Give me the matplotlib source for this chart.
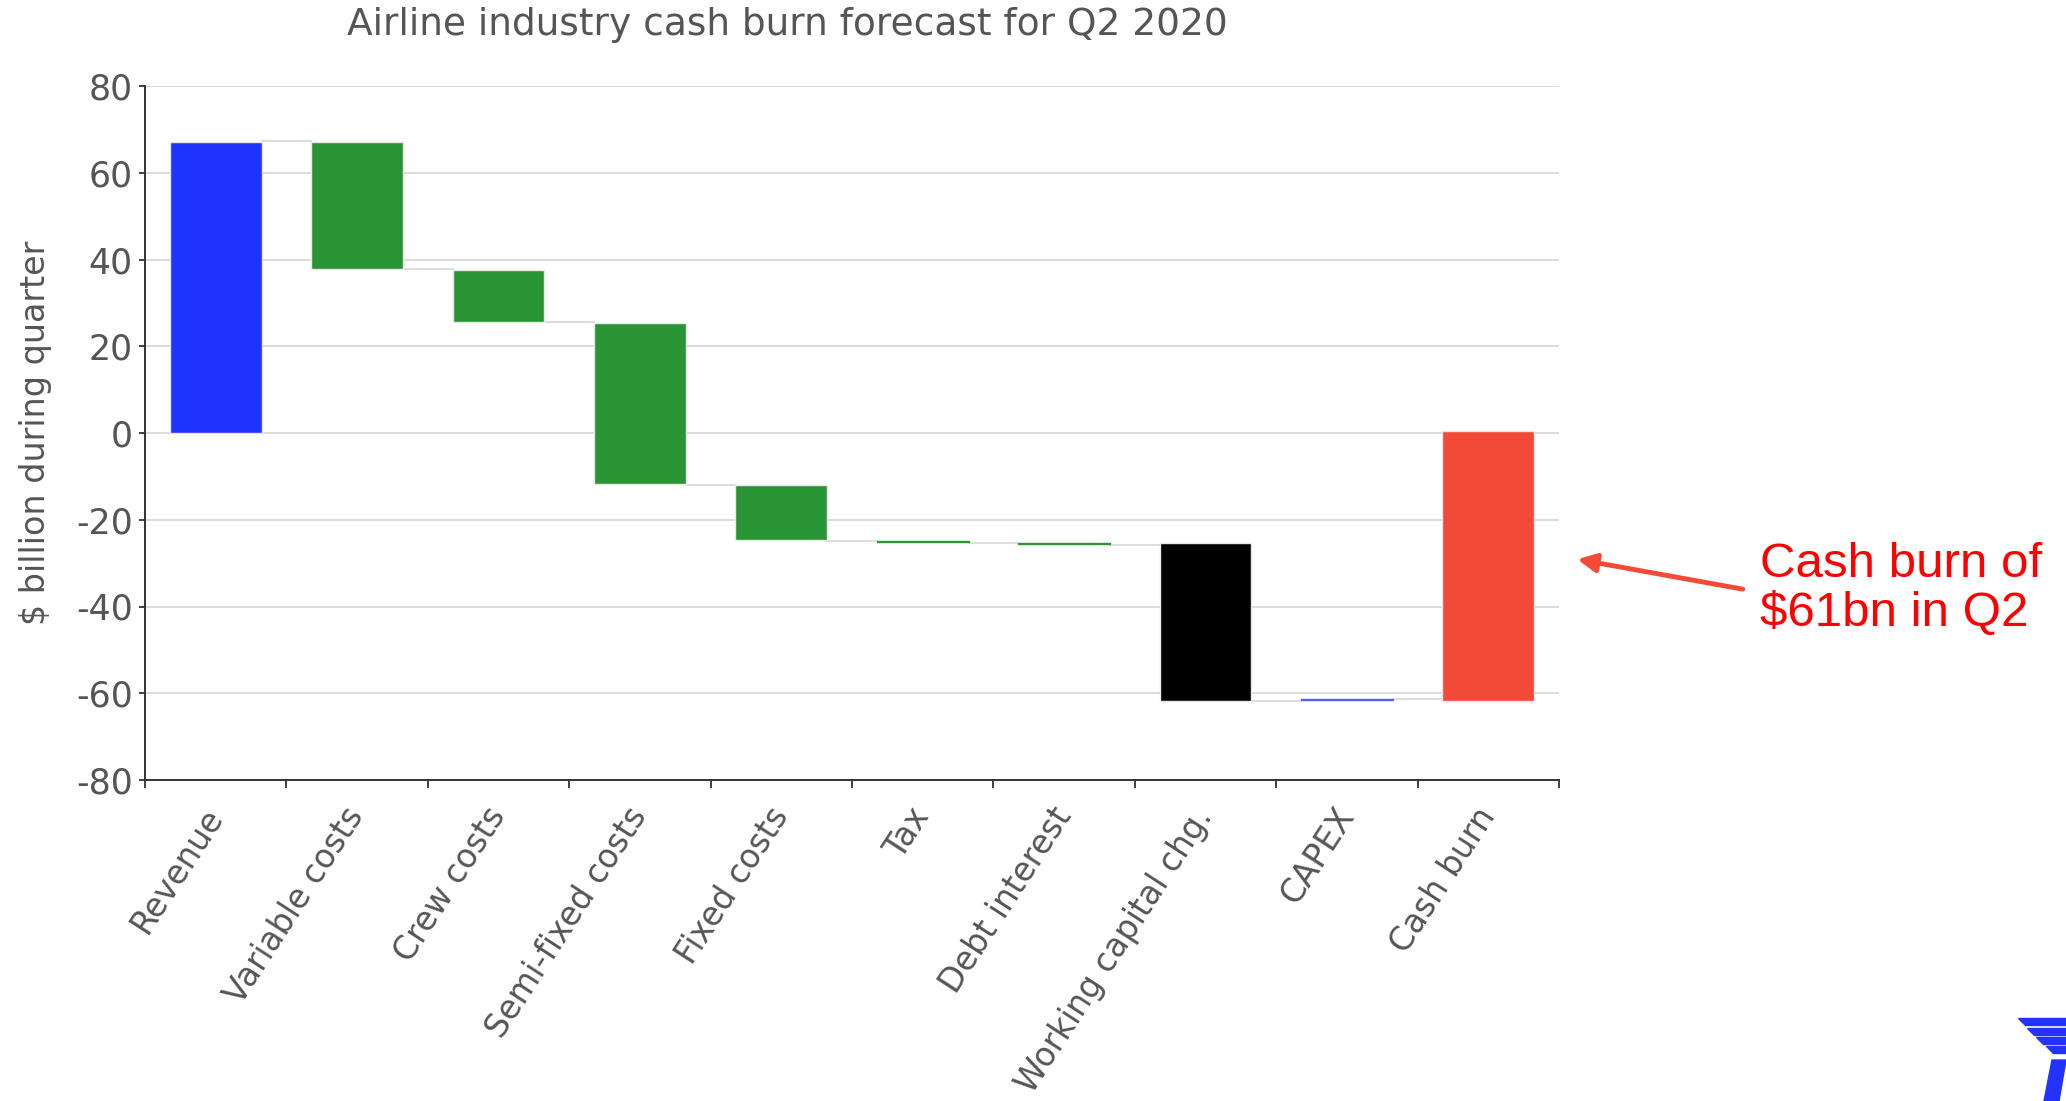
import numpy as np
import matplotlib
matplotlib.use('Agg')
import matplotlib.pyplot as plt
from matplotlib.patches import Polygon

plt.rcParams['axes.unicode_minus'] = False

# values ($bn)
categories = ['Revenue', 'Variable costs', 'Crew costs', 'Semi-fixed costs', 'Fixed costs',
              'Tax', 'Debt interest', 'Working capital chg.', 'CAPEX', 'Cash burn']
bar_top = [67.0, 67.0, 37.5, 25.4, -12.1, -24.9, -25.3, -25.4, -61.3, 0.4]
bar_bottom = [0.0, 37.7, 25.5, -11.7, -24.7, -25.2, -25.6, -61.9, -61.6, -61.9]
bar_colors = ['#1f33ff', '#2a9534', '#2a9534', '#2a9534', '#2a9534',
              '#2a9534', '#2a9534', '#000000', '#5560ff', '#f24a36']
# level where each bar hands over to the next one
link_level = [67.3, 37.7, 25.5, -11.9, -24.9, -25.3, -25.9, -61.9, -61.4]

W, H = 2066, 1101
fig = plt.figure(figsize=(W / 100, H / 100), dpi=100)
ax = fig.add_axes([145 / W, 1 - 780 / H, 1414 / W, 694 / H])

x = np.arange(len(categories))
width = 0.65
heights = np.array(bar_top) - np.array(bar_bottom)
# very small bars would vanish, so give them an outline in their own colour
edges = [c if h < 1 else '#e8e8e8' for c, h in zip(bar_colors, heights)]
ax.bar(x, heights, bottom=bar_bottom, width=width, color=bar_colors,
       edgecolor=edges, linewidth=1.0, zorder=3)

for i, lev in enumerate(link_level):
    ax.plot([x[i] + width / 2, x[i + 1] - width / 2], [lev, lev],
            color='#dedede', lw=1.5, zorder=2)

ax.set_xlim(-0.5, len(categories) - 0.5)
ax.set_ylim(-80, 80)
ax.set_yticks(np.arange(-80, 81, 20))
ax.yaxis.grid(True, color='#dcdcdc', lw=1.4, zorder=0)
ax.set_axisbelow(True)

ax.set_xticks(x)
ax.set_xticklabels(categories, rotation=57, ha='right', va='center',
                   rotation_mode='anchor')
ax.set_xticks(np.arange(-0.5, len(categories), 1), minor=True)
ax.tick_params(axis='x', which='major', length=0, pad=22, labelsize=23.5,
               labelcolor='#555555')
ax.tick_params(axis='x', which='minor', length=6, width=1.3, color='#333333')
ax.tick_params(axis='y', length=4, width=1.3, color='#333333', pad=5,
               labelsize=25, labelcolor='#555555')

for s in ['top', 'right']:
    ax.spines[s].set_visible(False)
for s in ['left', 'bottom']:
    ax.spines[s].set_color('#333333')
    ax.spines[s].set_linewidth(1.4)

fig.text(787 / W, 1 - 25 / H, 'Airline industry cash burn forecast for Q2 2020',
         ha='center', va='center', fontsize=27, color='#555555')
fig.text(36 / W, 1 - 433 / H, '$ billion during quarter', rotation=90,
         ha='center', va='center', fontsize=24, color='#555555')

# annotation
ax.annotate('', xy=(1.013, 0.318), xytext=(1.130, 0.275),
            xycoords='axes fraction', textcoords='axes fraction',
            annotation_clip=False,
            arrowprops=dict(arrowstyle='-|>', color='#f24a36', lw=3.5,
                            mutation_scale=28, shrinkA=0, shrinkB=0))
ax.text(1.142, 0.275, 'Cash burn of\n$61bn in Q2', transform=ax.transAxes,
        ha='left', va='center', fontsize=35.5, color='#ff0000',
        family='Liberation Sans', linespacing=1.12)

# corner logo fragment
logo = '#2233ff'
stripes = [(1017.7, 1025, 2018), (1027.7, 1034.5, 2027), (1036.7, 1043.5, 2036), (1045.7, 1052.7, 2046)]
for y0, y1, xl in stripes:
    pts = [(xl, y0), (W, y0), (W, y1), (xl + 7, y1)]
    fig.patches.append(Polygon([(px / W, 1 - py / H) for px, py in pts],
                               closed=True, color=logo, transform=fig.transFigure))
bar_pts = [(2052, 1060), (2066, 1060), (2059, 1101), (2044, 1101)]
fig.patches.append(Polygon([(px / W, 1 - py / H) for px, py in bar_pts],
                           closed=True, color=logo, transform=fig.transFigure))

fig.savefig('out.png', dpi=100, facecolor='white')
